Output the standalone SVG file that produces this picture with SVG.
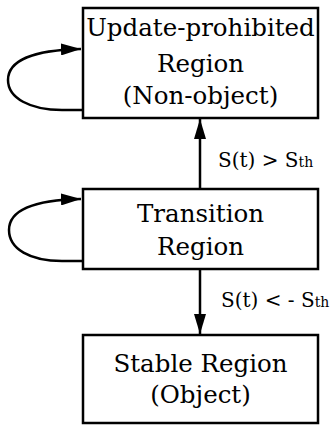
<svg xmlns="http://www.w3.org/2000/svg" width="335" height="426" viewBox="0 0 335 426">
<style>
.box{fill:#fff;stroke:#000;stroke-width:2.5}
.t{font-family:"DejaVu Serif","Liberation Serif",serif;font-size:24.5px;text-anchor:middle;fill:#000}
.l{font-family:"DejaVu Serif","Liberation Serif",serif;font-size:20px;fill:#000}
.sub{font-size:14px}
.c{fill:none;stroke:#000;stroke-width:2.5}
</style>
<defs>
<marker id="ah" viewBox="0 0 20 12" refX="20" refY="6" markerWidth="20" markerHeight="12" markerUnits="userSpaceOnUse" orient="auto">
<path d="M0,0 L20,6 L0,12 Z" fill="#000"/>
</marker>
</defs>
<g id="connectors">
<path class="c" d="M83,110 L62,110 C30,110 8,98 8,80 C8,60 35,50 81,49" marker-end="url(#ah)"/>
<path class="c" d="M83,261 L62,261 C30,261 9,249 9,230 C9,210 35,200 81,199" marker-end="url(#ah)"/>
<path class="c" d="M200,189 L200,119" marker-end="url(#ah)"/>
<path class="c" d="M200,269 L200,334" marker-end="url(#ah)"/>
<text class="l" x="218" y="167">S(t) &gt; S<tspan class="sub">th</tspan></text>
<text class="l" x="221" y="307">S(t) &lt; - S<tspan class="sub">th</tspan></text>
</g>
<g id="update">
<rect class="box" x="83" y="8" width="235" height="110"/>
<text class="t" x="200.5" y="36">Update-prohibited</text>
<text class="t" x="200.5" y="72">Region</text>
<text class="t" x="200.5" y="104">(Non-object)</text>
</g>
<g id="transition">
<rect class="box" x="83" y="189" width="235" height="80"/>
<text class="t" x="200.5" y="222">Transition</text>
<text class="t" x="200.5" y="255">Region</text>
</g>
<g id="stable">
<rect class="box" x="83" y="335" width="235" height="88"/>
<text class="t" x="200.5" y="372">Stable Region</text>
<text class="t" x="200.5" y="403">(Object)</text>
</g>
</svg>
